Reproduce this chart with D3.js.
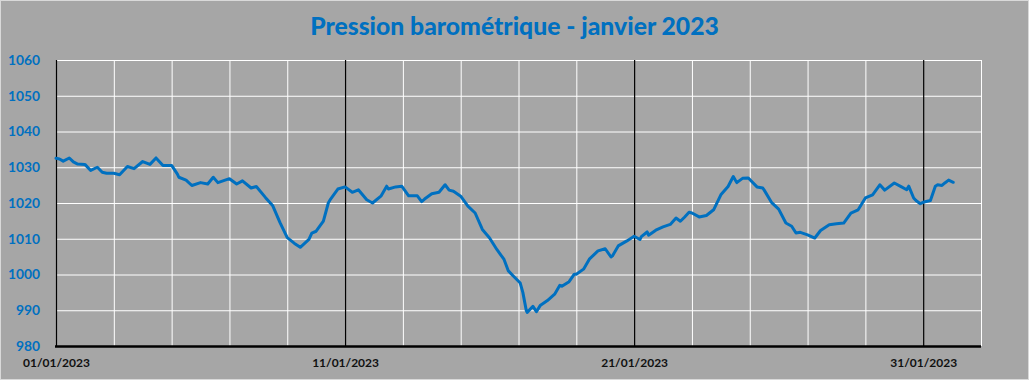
<!DOCTYPE html>
<html><head><meta charset="utf-8">
<script src="https://cdn.jsdelivr.net/npm/d3@7/dist/d3.min.js"></script>
<style>html,body{margin:0;padding:0;background:#a6a6a6;}svg{display:block;}</style>
</head><body>
<svg id="chart" width="1029" height="380"></svg>
<script>
const chartTitle = "Pression barométrique - janvier 2023";
const startDate = Date.UTC(2023, 0, 1);
const endDate = Date.UTC(2023, 1, 2);
// time of each reading, in days since 01/01/2023 00:00
const dayOffsets = [0,0.12,0.25,0.46,0.6,0.75,1.0,1.2,1.43,1.6,1.75,2.0,2.2,2.47,2.7,3.0,3.25,3.46,3.7,4.0,4.2,4.25,4.5,4.7,5.0,5.25,5.44,5.6,6.0,6.25,6.45,6.75,6.93,7.25,7.5,7.75,8.0,8.25,8.45,8.75,8.85,9.0,9.25,9.42,9.5,9.75,10.0,10.25,10.46,10.75,10.95,11.25,11.44,11.5,11.75,11.96,12.2,12.5,12.65,12.75,13.0,13.25,13.46,13.6,13.75,14.0,14.25,14.5,14.75,15.0,15.25,15.5,15.65,15.82,16.06,16.15,16.27,16.3,16.5,16.62,16.75,17.0,17.25,17.43,17.5,17.75,17.93,18.0,18.25,18.45,18.75,19.0,19.2,19.25,19.45,19.75,20.0,20.2,20.25,20.45,20.5,20.75,21.0,21.25,21.45,21.6,21.75,21.9,22.0,22.25,22.5,22.75,23.0,23.25,23.43,23.55,23.75,23.95,24.25,24.45,24.5,24.75,25.0,25.25,25.45,25.6,25.75,26.0,26.25,26.45,26.75,27.0,27.25,27.5,27.75,28.0,28.25,28.5,28.67,29.0,29.25,29.43,29.5,29.67,29.75,29.9,30.0,30.25,30.42,30.5,30.65,30.75,30.88,31.04];
// pressure in hPa
const pressure = [1032.5,1032.3,1031.7,1032.6,1031.5,1030.9,1030.8,1029.1,1030.0,1028.6,1028.3,1028.3,1027.9,1030.2,1029.6,1031.6,1030.8,1032.6,1030.5,1030.5,1028.1,1027.2,1026.4,1024.9,1025.7,1025.3,1027.2,1025.7,1026.8,1025.3,1026.2,1024.2,1024.6,1021.5,1019.2,1014.5,1010.3,1008.7,1007.6,1009.8,1011.6,1012.1,1014.9,1020.0,1021.1,1023.9,1024.5,1023.0,1023.7,1020.9,1020.0,1022.0,1024.7,1023.9,1024.5,1024.7,1022.0,1022.0,1020.4,1021.1,1022.6,1023.0,1025.1,1023.6,1023.3,1021.9,1019.1,1017.2,1012.6,1010.2,1007.0,1004.2,1001.0,999.6,997.6,995.0,989.9,989.4,991.1,989.6,991.3,992.7,994.5,997.0,996.7,998.0,1000.1,1000.1,1001.5,1004.3,1006.6,1007.2,1004.9,1005.2,1008.0,1009.4,1010.7,1009.8,1010.6,1011.9,1011.0,1012.4,1013.3,1014.0,1015.8,1014.9,1016.1,1017.4,1017.2,1016.1,1016.5,1018.1,1022.3,1024.6,1027.4,1025.7,1026.9,1027.0,1024.5,1024.2,1023.6,1020.2,1018.3,1014.4,1013.5,1011.6,1011.8,1011.1,1010.2,1012.3,1013.9,1014.2,1014.4,1017.2,1018.1,1021.4,1022.3,1025.1,1023.6,1025.6,1024.5,1023.7,1024.7,1021.4,1020.7,1019.8,1020.2,1020.7,1024.7,1025.1,1024.9,1025.6,1026.4,1025.8];
const yTicks = [980,990,1000,1010,1020,1030,1040,1050,1060];
const gridDays = [2,4,6,8,12,14,16,18,22,24,26,28,32];
const majorDays = [0,10,20,30];
const labelDays = [0,10,20,30];

const DAY = 86400000;
const toDate = d => new Date(startDate + d * DAY);
const svg = d3.select("#chart");
const W = 1029, H = 380;
const m = {left: 56, right: 981, top: 60, bottom: 346};

svg.append("rect").attr("x",0).attr("y",0).attr("width",W).attr("height",H).attr("fill","#a6a6a6");
svg.append("rect").attr("x",0.5).attr("y",0.5).attr("width",W-1).attr("height",H-1)
  .attr("fill","none").attr("stroke","#d9d9d9").attr("stroke-width",1);

const x = d3.scaleUtc().domain([new Date(startDate), new Date(endDate)]).range([m.left, m.right]);
const y = d3.scaleLinear().domain([980, 1060]).range([m.bottom, m.top]);

// horizontal gridlines
svg.append("g").attr("transform",`translate(${m.left},0)`)
  .call(d3.axisRight(y).tickValues(yTicks).tickSize(m.right - m.left).tickFormat(""))
  .call(g => g.select(".domain").remove())
  .call(g => g.selectAll("line").attr("stroke","#ffffff").attr("stroke-width",1));

// vertical white gridlines
svg.append("g").attr("transform",`translate(0,${m.top})`)
  .call(d3.axisBottom(x).tickValues(gridDays.map(toDate)).tickSize(m.bottom - m.top).tickFormat(""))
  .call(g => g.select(".domain").remove())
  .call(g => g.selectAll("line").attr("stroke","#ffffff").attr("stroke-width",1));

// vertical black lines every 10 days
svg.append("g").attr("transform",`translate(0,${m.top})`)
  .call(d3.axisBottom(x).tickValues(majorDays.map(toDate)).tickSize(m.bottom - m.top).tickFormat(""))
  .call(g => g.select(".domain").remove())
  .call(g => g.selectAll("line").attr("stroke","#000000").attr("stroke-width",1.2));

// bottom axis line
svg.append("line").attr("x1",m.left-1).attr("x2",m.right).attr("y1",m.bottom+0.5).attr("y2",m.bottom+0.5)
  .attr("stroke","#000").attr("stroke-width",2.5);

// y labels
const ya = svg.append("g").attr("transform",`translate(40,0)`)
  .call(d3.axisLeft(y).tickValues(yTicks).tickSize(0).tickPadding(0).tickFormat(d3.format("d")));
ya.select(".domain").remove();
ya.selectAll("text").attr("fill","#0070c0").style("font-family","Lato, 'Open Sans', sans-serif")
  .style("font-weight","bold").style("font-size","13.8px");

// x labels
const xa = svg.append("g").attr("transform",`translate(0,${m.bottom})`)
  .call(d3.axisBottom(x).tickValues(labelDays.map(toDate)).tickSize(0).tickPadding(12).tickFormat(d3.utcFormat("%d/%m/%Y")));
xa.select(".domain").remove();
xa.selectAll("text").attr("fill","#111").style("font-family","Lato, 'Open Sans', sans-serif")
  .style("font-weight","bold").style("font-size","12px");

// line
const pts = dayOffsets.map((d,i) => ({t: toDate(d), v: pressure[i]}));
svg.append("path").datum(pts)
  .attr("fill","none").attr("stroke","#0070c0").attr("stroke-width",3)
  .attr("stroke-linejoin","round").attr("stroke-linecap","round")
  .attr("d", d3.line().x(p => x(p.t)).y(p => y(p.v)));

// title
svg.append("text").attr("x",514.5).attr("y",35).attr("text-anchor","middle")
  .attr("fill","#0070c0").style("font-family","Lato, 'Open Sans', sans-serif")
  .style("font-weight","900").style("font-size","24.7px").text(chartTitle);
</script>
</body></html>
